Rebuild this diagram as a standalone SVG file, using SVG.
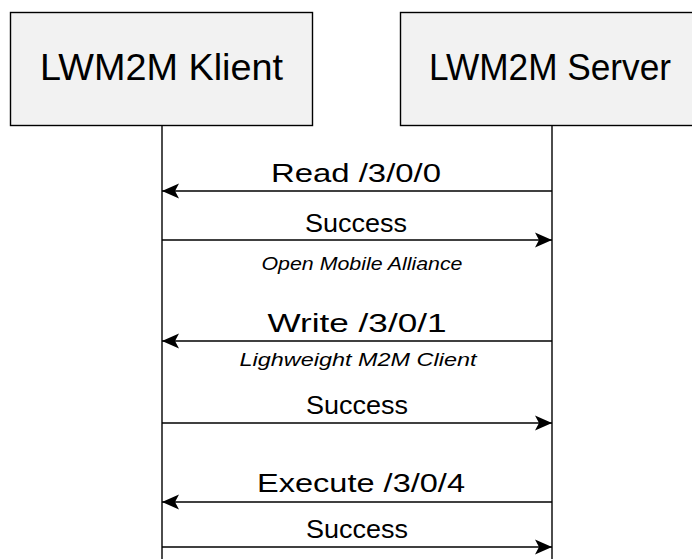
<svg xmlns="http://www.w3.org/2000/svg" width="692" height="559" viewBox="0 0 692 559">
  <style>
    .box { fill: #f2f2f2; stroke: #000; stroke-width: 1.4; }
    .life { stroke: #000; stroke-width: 1.4; fill: none; }
    .msg { stroke: #000; stroke-width: 1.4; fill: none; marker-end: url(#head); }
    .title { font-family: "Liberation Sans", Arial, sans-serif; font-size: 37px; fill: #000; text-anchor: middle; }
    .label { font-family: "Liberation Sans", Arial, sans-serif; font-size: 26px; fill: #000; text-anchor: middle; }
    .note { font-family: "Liberation Sans", Arial, sans-serif; font-size: 19px; font-style: italic; fill: #000; text-anchor: middle; }
  </style>
  <defs>
    <marker id="head" markerUnits="userSpaceOnUse" markerWidth="20" markerHeight="18" refX="17" refY="8" orient="auto">
      <path d="M0,0.5 L17,8 L0,15.5 L4,8 Z" fill="#000"/>
    </marker>
  </defs>
  <rect width="692" height="559" fill="#fff"/>

  <g id="client">
    <rect class="box" x="10.5" y="12.5" width="302" height="113"/>
    <text class="title" x="161.5" y="80" textLength="243" lengthAdjust="spacingAndGlyphs">LWM2M Klient</text>
  </g>
  <g id="server">
    <rect class="box" x="400.5" y="12.5" width="302" height="113"/>
    <text class="title" x="550" y="80" textLength="242" lengthAdjust="spacingAndGlyphs">LWM2M Server</text>
  </g>

  <g id="connectors">
    <line class="life" x1="162" y1="125.5" x2="162" y2="559"/>
    <line class="life" x1="552" y1="125.5" x2="552" y2="559"/>

    <line class="msg" x1="552" y1="191" x2="162" y2="191"/>
    <text class="label" x="356" y="182" textLength="170" lengthAdjust="spacingAndGlyphs">Read /3/0/0</text>

    <line class="msg" x1="162" y1="240" x2="552" y2="240"/>
    <text class="label" x="356" y="232" textLength="102" lengthAdjust="spacingAndGlyphs">Success</text>
    <text class="note" x="362" y="270" textLength="201" lengthAdjust="spacingAndGlyphs">Open Mobile Alliance</text>

    <line class="msg" x1="552" y1="341" x2="162" y2="341"/>
    <text class="label" x="357" y="332" textLength="179" lengthAdjust="spacingAndGlyphs">Write /3/0/1</text>
    <text class="note" x="358" y="366" textLength="237" lengthAdjust="spacingAndGlyphs">Lighweight M2M Client</text>

    <line class="msg" x1="162" y1="423" x2="552" y2="423"/>
    <text class="label" x="357" y="414" textLength="102" lengthAdjust="spacingAndGlyphs">Success</text>

    <line class="msg" x1="552" y1="502" x2="162" y2="502"/>
    <text class="label" x="361" y="492" textLength="208" lengthAdjust="spacingAndGlyphs">Execute /3/0/4</text>

    <line class="msg" x1="162" y1="547" x2="552" y2="547"/>
    <text class="label" x="357" y="538" textLength="102" lengthAdjust="spacingAndGlyphs">Success</text>
  </g>
</svg>
